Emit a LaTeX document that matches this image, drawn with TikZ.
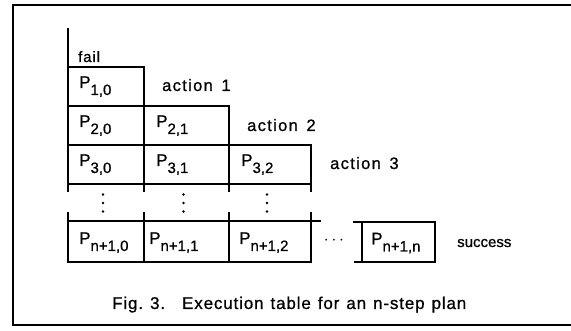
\documentclass[tikz,border=0pt]{standalone}
\usepackage{fontspec}
\setmainfont{Liberation Sans}[FakeBold=0.8]
\usetikzlibrary{positioning}

% P with its lowered index, as in the table
\newcommand\Pij[1]{P\raisebox{-7pt}{\fontsize{15}{16}\selectfont #1}}

\begin{document}
\begin{tikzpicture}[x=1pt,y=-1pt,
	cell/.style={
		draw, line width=1.5pt, outer sep=0pt, inner sep=0pt,
		anchor=north west, minimum height=39pt
	},
	plab/.style={anchor=base west, inner sep=0pt, font=\fontsize{17}{18}\selectfont},
	tlab/.style={anchor=base west, inner sep=0pt,
		font=\fontsize{16.5}{18}\selectfont\addfontfeature{LetterSpace=8}},
	rule/.style={line width=1.5pt},
	dot/.style={circle, fill=black, inner sep=0pt, minimum size=2.6pt}
	]
	\useasboundingbox (0,0) rectangle (571,331);
	% Khung ngoai (khong co canh phai)
	\draw[rule] (571,5) -- (13,5) -- (13,325) -- (571,325);

	% Cac o cua bang
	\node[cell, minimum width=76pt] (c10) at (68,67)  {};
	\node[cell, minimum width=76pt] (c20) at (68,106) {};
	\node[cell, minimum width=85pt] (c21) at (144,106) {};
	\node[cell, minimum width=76pt] (c30) at (68,145) {};
	\node[cell, minimum width=85pt] (c31) at (144,145) {};
	\node[cell, minimum width=82pt] (c32) at (229,145) {};
	\node[cell, minimum width=76pt, minimum height=41pt] (cn0) at (68,221)  {};
	\node[cell, minimum width=85pt, minimum height=41pt] (cn1) at (144,221) {};
	\node[cell, minimum width=82pt, minimum height=41pt] (cn2) at (229,221) {};
	\node[cell, minimum width=73pt, minimum height=40pt] (cnn) at (362,222) {};

	% Nhan P trong tung o
	\node[plab] (p10) at ([xshift=11pt, yshift=-1.5pt]c10.west) {\Pij{1,0}};
	\node[plab] (p20) at ([xshift=11pt, yshift=-1.5pt]c20.west) {\Pij{2,0}};
	\node[plab] (p21) at ([xshift=12pt, yshift=-1.5pt]c21.west) {\Pij{2,1}};
	\node[plab] (p30) at ([xshift=11pt, yshift=-1.5pt]c30.west) {\Pij{3,0}};
	\node[plab] (p31) at ([xshift=12pt, yshift=-1.5pt]c31.west) {\Pij{3,1}};
	\node[plab] (p32) at ([xshift=12pt, yshift=-1.5pt]c32.west) {\Pij{3,2}};
	\node[plab] (pn0) at ([xshift=11pt, yshift=-2.5pt]cn0.west) {\Pij{n+1,0}};
	\node[plab] (pn1) at ([xshift=5pt,  yshift=-2.5pt]cn1.west) {\Pij{n+1,1}};
	\node[plab] (pn2) at ([xshift=10pt, yshift=-2.5pt]cn2.west) {\Pij{n+1,2}};
	\node[plab] (pnn) at ([xshift=9pt,  yshift=-2.5pt]cnn.west) {\Pij{n+1,n}};

	% Chu ben canh
	\node[tlab, font=\fontsize{15}{16}\selectfont\addfontfeature{LetterSpace=6}] (fail) at ([xshift=10pt, yshift=5pt]c10.north west) {fail};
	\node[tlab] (act1) at ([xshift=18pt, yshift=-4.5pt]c10.east) {action\, 1};
	\node[tlab] (act2) at ([xshift=18pt, yshift=-5.5pt]c21.east) {action\, 2};
	\node[tlab] (act3) at ([xshift=19pt, yshift=-4.5pt]c32.east) {action\, 3};
	\node[tlab, font=\fontsize{15}{16}\selectfont] (succ) at ([xshift=22pt, yshift=-5pt]cnn.east) {success};

	% Duong ke phu va dau cham
	\draw[rule] (c10.north west) -- ++(0,-39);
	\foreach \c in {c30.south west, c31.south west, c32.south west, c32.south east}
		\draw[rule] (\c) -- ++(0,8);
	\foreach \c in {cn0.north west, cn1.north west, cn2.north west, cn2.north east}
		\draw[rule] (\c) -- ++(0,-9);
	\draw[rule] (cn2.north east) -- ++(10,0);
	\draw[rule] (cnn.north west) -- ++(-9,0);
	\draw[rule] (cnn.south west) -- ++(-8,0);
	\foreach \c in {c30, c31, c32}
		\foreach \k in {0,1,2}
			\node[dot] (\c d\k) at ([xshift=-3pt, yshift=-10.5pt-8.5pt*\k]\c.south) {};
	\node[inner sep=0pt, font=\fontsize{17}{18}\selectfont] (hdots) at (334,241) {$\cdots$};

	% Chu thich
	\node[tlab, font=\fontsize{17}{18}\selectfont\addfontfeature{LetterSpace=5}] (cap) at (112,309) {\spaceskip=7pt\relax Fig.\ 3.\quad Execution table for an n-step plan};
\end{tikzpicture}
\end{document}
